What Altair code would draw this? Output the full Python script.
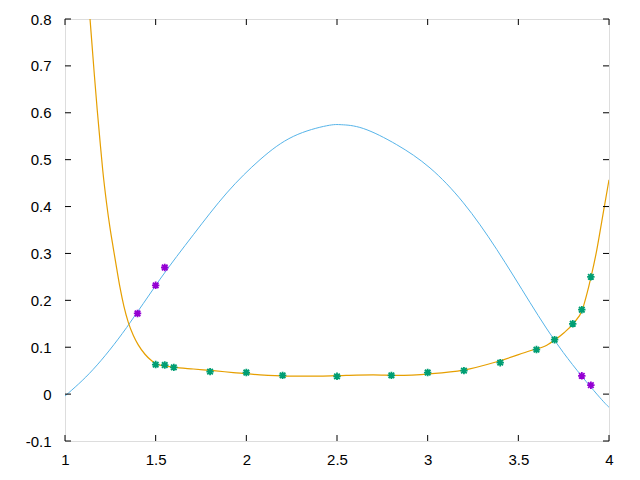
import altair as alt
import pandas as pd

# Blue curve samples (x, y)
blue_x = [1.0, 1.156, 1.34, 1.524, 1.708, 1.892, 2.0755, 2.259, 2.443, 2.526, 2.645, 2.829, 3.013, 3.197, 3.381, 3.565, 3.748, 3.933, 4.0]
blue_y = [-0.004, 0.053, 0.142, 0.245, 0.340, 0.429, 0.500, 0.5496, 0.5723, 0.5745, 0.5665, 0.532, 0.4823, 0.408, 0.3085, 0.195, 0.0887, 0.0, -0.028]

# Orange curve samples
orange_x = [1.138, 1.150, 1.162, 1.178, 1.193, 1.208, 1.230, 1.248, 1.266, 1.285, 1.303, 1.325, 1.349, 1.377, 1.404, 1.441, 1.478, 1.506,
            1.597, 1.708, 1.818, 1.928, 2.0755, 2.222, 2.406, 2.55, 2.70, 2.829, 3.013, 3.197, 3.381, 3.565, 3.657, 3.703, 3.752, 3.804,
            3.853, 3.877, 3.901, 3.933, 3.960, 3.982, 4.0]
orange_y = [0.800, 0.740, 0.680, 0.605, 0.540, 0.478, 0.405, 0.355, 0.312, 0.268, 0.228, 0.187, 0.153, 0.125, 0.105, 0.085, 0.071, 0.064,
            0.0575, 0.0535, 0.050, 0.046, 0.041, 0.0385, 0.0383, 0.040, 0.041, 0.040, 0.0432, 0.051, 0.069, 0.0925, 0.104, 0.116, 0.131, 0.151,
            0.180, 0.212, 0.250, 0.308, 0.368, 0.417, 0.457]

# Purple points
purple_x = [1.4, 1.5, 1.55, 3.85, 3.9]
purple_y = [0.172, 0.232, 0.270, 0.039, 0.019]

# Green points
green_x = [1.5, 1.55, 1.6, 1.8, 2.0, 2.2, 2.5, 2.8, 3.0, 3.2, 3.4, 3.6, 3.7, 3.8, 3.85, 3.9]
green_y = [0.063, 0.062, 0.057, 0.048, 0.046, 0.040, 0.038, 0.040, 0.046, 0.050, 0.067, 0.095, 0.116, 0.150, 0.180, 0.250]

x_ticks = [1, 1.5, 2, 2.5, 3, 3.5, 4]
y_ticks = [-0.1, 0, 0.1, 0.2, 0.3, 0.4, 0.5, 0.6, 0.7, 0.8]

W, H = 544, 422
TICK = 6
FONT = "Liberation Sans"

xs = alt.Scale(domain=[1, 4], nice=False, zero=False)
ys = alt.Scale(domain=[-0.1, 0.8], nice=False, zero=False)

blue_df = pd.DataFrame({"x": blue_x, "y": blue_y})
orange_df = pd.DataFrame({"x": orange_x, "y": orange_y})
purple_df = pd.DataFrame({"x": purple_x, "y": purple_y})
green_df = pd.DataFrame({"x": green_x, "y": green_y})
xt_df = pd.DataFrame({"v": x_ticks})
yt_df = pd.DataFrame({"v": y_ticks})

xaxis = alt.Axis(values=x_ticks, ticks=False, domain=False, grid=False, labelFont=FONT,
                 labelFontSize=15, labelColor="black", labelPadding=11, format="~g",
                 title=None, labelFlush=False)
yaxis = alt.Axis(values=y_ticks, ticks=False, domain=False, grid=False, labelFont=FONT,
                 labelFontSize=15, labelColor="black", labelPadding=14, title=None,
                 labelExpr="datum.value < -0.0001 ? '-' + format(-datum.value, '.1~f') : format(datum.value, '.1~f')")

blue = alt.Chart(blue_df).mark_line(color="#56b4e9", strokeWidth=1, interpolate="natural", clip=True).encode(
    x=alt.X("x:Q", scale=xs, axis=xaxis), y=alt.Y("y:Q", scale=ys, axis=yaxis))
orange = alt.Chart(orange_df).mark_line(color="#e69f00", strokeWidth=1.2, interpolate="monotone", clip=True).encode(
    x=alt.X("x:Q", scale=xs), y=alt.Y("y:Q", scale=ys))

star = "M-1,0L1,0M0,-1L0,1M-0.75,-0.75L0.75,0.75M-0.75,0.75L0.75,-0.75"
purple = alt.Chart(purple_df).mark_point(shape=star, size=55, strokeWidth=1.8, color="#9400d3", opacity=1).encode(
    x=alt.X("x:Q", scale=xs), y=alt.Y("y:Q", scale=ys))
green = alt.Chart(green_df).mark_point(shape=star, size=55, strokeWidth=1.8, color="#009e73", opacity=1).encode(
    x=alt.X("x:Q", scale=xs), y=alt.Y("y:Q", scale=ys))

left_t = alt.Chart(yt_df).mark_rule(color="black", strokeWidth=1).encode(
    y=alt.Y("v:Q", scale=ys), x=alt.value(0), x2=alt.value(TICK))
right_t = alt.Chart(yt_df).mark_rule(color="black", strokeWidth=1).encode(
    y=alt.Y("v:Q", scale=ys), x=alt.value(W - TICK), x2=alt.value(W))
bot_t = alt.Chart(xt_df).mark_rule(color="black", strokeWidth=1).encode(
    x=alt.X("v:Q", scale=xs), y=alt.value(H), y2=alt.value(H - TICK))
top_t = alt.Chart(xt_df).mark_rule(color="black", strokeWidth=1).encode(
    x=alt.X("v:Q", scale=xs), y=alt.value(0), y2=alt.value(TICK))

chart = alt.layer(blue, orange, purple, green, left_t, right_t, bot_t, top_t).properties(
    width=W, height=H,
    autosize=alt.AutoSizeParams(type="none"),
    padding={"left": 57, "top": 11, "right": 23, "bottom": 31},
).configure_view(stroke="black", strokeWidth=1.2).configure(background="white")

chart.save("out.html", embed_options={"renderer": "svg", "actions": False})
